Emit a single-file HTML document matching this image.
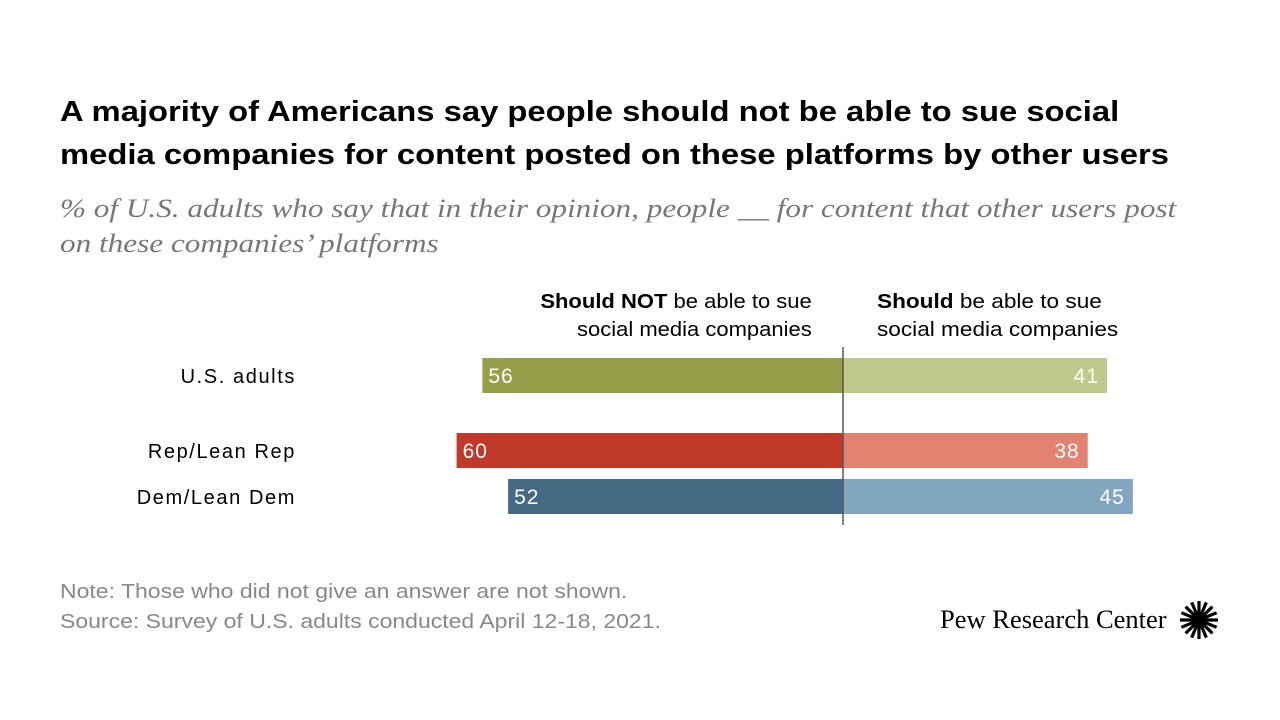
<!DOCTYPE html>
<html><head><meta charset="utf-8"><style>
body{margin:0;width:1280px;height:720px;background:#fff;font-family:"Liberation Sans",sans-serif;position:relative;overflow:hidden}
.t{position:absolute;white-space:nowrap}
</style></head><body>
<div class="t" style="left:60px;top:91px;font-size:29px;font-weight:bold;line-height:43px;color:#000;transform:scaleX(1.13);transform-origin:0 0">A majority of Americans say people should not be able to sue social<br>media companies for content posted on these platforms by other users</div>
<div class="t" style="left:60px;top:191px;font-family:'Liberation Serif',serif;font-style:italic;font-size:26px;line-height:35px;color:#777;transform:scaleX(1.2);transform-origin:0 0">% of U.S. adults who say that in their opinion, people __ for content that other users post<br>on these companies’ platforms</div>
<div class="t" style="right:468px;top:288px;font-size:20px;line-height:28px;text-align:right;color:#000;transform:scaleX(1.1);transform-origin:100% 0"><b>Should NOT</b> be able to sue<br>social media companies</div>
<div class="t" style="left:877px;top:288px;font-size:20px;line-height:28px;color:#000;transform:scaleX(1.13);transform-origin:0 0"><b>Should</b> be able to sue<br>social media companies</div>
<svg id="chart" width="1280" height="720" style="position:absolute;left:0;top:0"></svg>
<div class="t" style="left:60px;top:577px;font-size:20px;line-height:30px;color:#888;transform:scaleX(1.15);transform-origin:0 0">Note: Those who did not give an answer are not shown.<br>Source: Survey of U.S. adults conducted April 12-18, 2021.</div>
<div class="t" style="left:940px;top:604px;font-family:'Liberation Serif',serif;font-size:26.5px;color:#000">Pew Research Center</div>
<svg width="40" height="40" style="position:absolute;left:1179px;top:600px" viewBox="-20 -20 40 40">
<g stroke="#000" stroke-width="3.2"><line x1="0" y1="-19" x2="0" y2="19"/><line x1="-19" y1="0" x2="19" y2="0"/><line x1="-13.4" y1="-13.4" x2="13.4" y2="13.4"/><line x1="-13.4" y1="13.4" x2="13.4" y2="-13.4"/><line x1="-7.3" y1="-17.6" x2="7.3" y2="17.6"/><line x1="7.3" y1="-17.6" x2="-7.3" y2="17.6"/><line x1="-17.6" y1="-7.3" x2="17.6" y2="7.3"/><line x1="-17.6" y1="7.3" x2="17.6" y2="-7.3"/></g><circle r="5" fill="#000"/></svg>
<script>
const categories=["U.S. adults","Rep/Lean Rep","Dem/Lean Dem"];
const shouldNot=[56,60,52];
const should=[41,38,45];
const rowTops=[358,433,479];
const darkColors=["#979e4a","#c13a29","#456a84"];
const lightColors=["#c1c98a","#e48272","#82a5c0"];
const cx=843,scale=6.44,bh=35;
const x=v=>v*scale;
const svg=document.getElementById('chart');
const ns="http://www.w3.org/2000/svg";
function mk(t,a){const e=document.createElementNS(ns,t);for(const k in a)e.setAttribute(k,a[k]);svg.appendChild(e);return e;}
categories.forEach((c,i)=>{
 const y=rowTops[i];
 let r=mk('rect',{x:cx-x(shouldNot[i]),y:y,width:x(shouldNot[i]),height:bh,fill:darkColors[i]});
 
 
 let r2=mk('rect',{x:cx,y:y,width:x(should[i]),height:bh,fill:lightColors[i]});
 
 
 let l=mk('text',{x:296,y:y+25,'text-anchor':'end','font-size':20,'letter-spacing':'1.6',fill:'#000'});l.textContent=c;
 
 
 let v1=mk('text',{x:cx-x(shouldNot[i])+6,y:y+25,'font-size':21,'letter-spacing':'1',fill:'#fff'});v1.textContent=shouldNot[i];
 
 
 let v2=mk('text',{x:cx+x(should[i])-8,y:y+25,'text-anchor':'end','font-size':21,'letter-spacing':'1',fill:'#fff'});v2.textContent=should[i];
 
 
});
let ax=mk('line',{x1:cx,x2:cx,y1:347,y2:525,stroke:'#555','stroke-width':1.5});


</script>
</body></html>
